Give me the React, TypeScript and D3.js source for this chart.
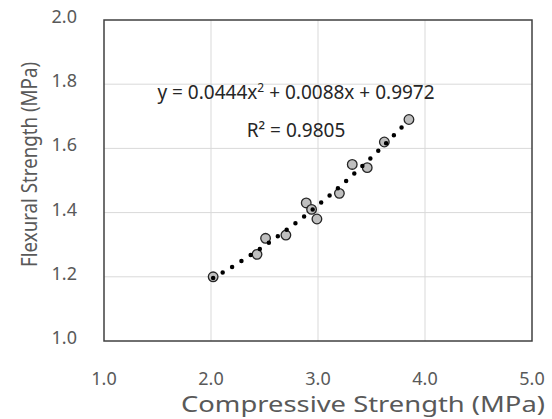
import React from "react";
import * as d3 from "d3";

const compressive = [2.02, 2.43, 2.51, 2.70, 2.89, 2.94, 2.99, 3.20, 3.32, 3.46, 3.62, 3.85];
const flexural = [1.20, 1.27, 1.32, 1.33, 1.43, 1.41, 1.38, 1.46, 1.55, 1.54, 1.62, 1.69];
const trendCoefs = [0.0444, 0.0088, 0.9972];
const xTicks = [1.0, 2.0, 3.0, 4.0, 5.0];
const yTicks = [1.0, 1.2, 1.4, 1.6, 1.8, 2.0];
const xTitle = "Compressive Strength (MPa)";
const yTitle = "Flexural Strength (MPa)";
const r2Label = "R² = 0.9805";

const W = 552;
const H = 419;
const FONT = "'Noto Sans', 'Open Sans', sans-serif";

export default function App() {
  const x = d3.scaleLinear().domain([1, 5]).range([104, 532]);
  const y = d3.scaleLinear().domain([1, 2]).range([341, 20]);

  const xMin = d3.min(compressive) as number;
  const xMax = d3.max(compressive) as number;
  const trendX = d3.range(0, 201).map((i) => xMin + ((xMax - xMin) * i) / 200);
  const trend = (v: number) => trendCoefs[0] * v * v + trendCoefs[1] * v + trendCoefs[2];
  const line = d3
    .line<number>()
    .x((v) => x(v))
    .y((v) => y(trend(v)))
    .curve(d3.curveLinear);

  const points = compressive.map((c, i) => ({ c, f: flexural[i] }));
  const eqCenter = 296;

  return (
    <div style={{ position: "absolute", left: 0, top: 0 }}>
      <svg width={W} height={H} style={{ display: "block", background: "#fff" }}>
        {/* gridlines */}
        {xTicks.slice(1, -1).map((t) => (
          <line key={"gx" + t} x1={x(t)} x2={x(t)} y1={y(2)} y2={y(1)} stroke="#d9d9d9" strokeWidth={1} />
        ))}
        {yTicks.slice(1, -1).map((t) => (
          <line key={"gy" + t} x1={x(1)} x2={x(5)} y1={y(t)} y2={y(t)} stroke="#d9d9d9" strokeWidth={1} />
        ))}
        {/* frame */}
        <rect x={x(1)} y={y(2)} width={x(5) - x(1)} height={y(1) - y(2)} fill="none" stroke="#404040" strokeWidth={1.5} />

        {/* tick labels */}
        {yTicks.map((t) => (
          <text key={"yl" + t} x={77} y={y(t) + 3} textAnchor="end" fontFamily={FONT} fontSize={18} fill="#595959">
            {t.toFixed(1)}
          </text>
        ))}
        {xTicks.map((t) => (
          <text key={"xl" + t} x={x(t)} y={385} textAnchor="middle" fontFamily={FONT} fontSize={18} fill="#595959">
            {t.toFixed(1)}
          </text>
        ))}

        {/* axis titles */}
        <text x={363} y={412} textAnchor="middle" fontFamily={FONT} fontSize={22} fill="#595959" textLength={364} lengthAdjust="spacingAndGlyphs">
          {xTitle}
        </text>
        <text
          transform={`translate(37,${164.5}) rotate(-90)`}
          textAnchor="middle"
          fontFamily={FONT}
          fontSize={21}
          fill="#595959"
          textLength={205}
          lengthAdjust="spacingAndGlyphs"
        >
          {yTitle}
        </text>

        {/* markers */}
        {points.map((p, i) => (
          <circle key={"p" + i} cx={x(p.c)} cy={y(p.f)} r={4.8} fill="#bfbfbf" stroke="#262626" strokeWidth={1.3} />
        ))}

        {/* trendline */}
        <path d={line(trendX) || ""} fill="none" stroke="#000" strokeWidth={4.5} strokeLinecap="round" strokeDasharray="0 11" />

        {/* equation */}
        <text x={eqCenter} y={99} textAnchor="middle" fontFamily={FONT} fontSize={19} fill="#262626">
          <tspan>{`y = ${trendCoefs[0].toFixed(4)}x`}</tspan>
          <tspan fontSize={12} dy={-7}>2</tspan>
          <tspan dy={7}>{` + ${trendCoefs[1].toFixed(4)}x + ${trendCoefs[2].toFixed(4)}`}</tspan>
        </text>
        <text x={eqCenter} y={137} textAnchor="middle" fontFamily={FONT} fontSize={19} fill="#262626">
          {r2Label}
        </text>
      </svg>
    </div>
  );
}
